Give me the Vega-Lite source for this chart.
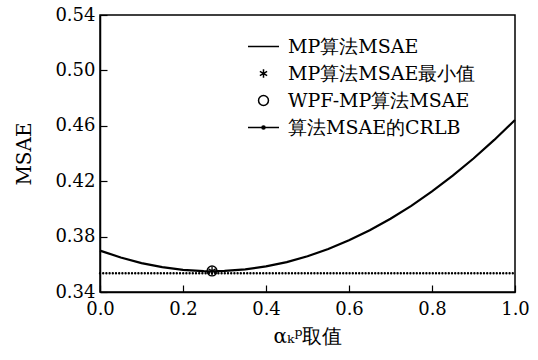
{
  "$schema": "https://vega.github.io/schema/vega-lite/v6.json",
  "width": 415,
  "height": 277,
  "autosize": {"type": "none"},
  "padding": {"left": 100, "top": 15, "right": 23, "bottom": 68},
  "background": "white",
  "config": {
    "view": {"stroke": "black", "strokeWidth": 1.5},
    "font": "DejaVu Serif",
    "axis": {
      "domainColor": "black", "domainWidth": 1.5,
      "tickColor": "black", "tickWidth": 1.2, "tickSize": -7,
      "labelColor": "black", "labelFont": "DejaVu Serif", "labelFontSize": 18, "labelFlush": false,
      "titleColor": "black", "titleFont": "DejaVu Serif", "titleFontSize": 20, "titleFontWeight": "normal",
      "grid": false
    }
  },
  "datasets": {
    "curve": [
      {"a": 0.0, "msae": 0.3699},
      {"a": 0.05, "msae": 0.3649},
      {"a": 0.1, "msae": 0.3609},
      {"a": 0.15, "msae": 0.3580},
      {"a": 0.2, "msae": 0.3560},
      {"a": 0.25, "msae": 0.3551},
      {"a": 0.27, "msae": 0.3550},
      {"a": 0.3, "msae": 0.3552},
      {"a": 0.35, "msae": 0.3563},
      {"a": 0.4, "msae": 0.3585},
      {"a": 0.45, "msae": 0.3616},
      {"a": 0.5, "msae": 0.3658},
      {"a": 0.55, "msae": 0.3711},
      {"a": 0.6, "msae": 0.3773},
      {"a": 0.65, "msae": 0.3846},
      {"a": 0.7, "msae": 0.3929},
      {"a": 0.75, "msae": 0.4022},
      {"a": 0.8, "msae": 0.4126},
      {"a": 0.85, "msae": 0.4240},
      {"a": 0.9, "msae": 0.4364},
      {"a": 0.95, "msae": 0.4498},
      {"a": 1.0, "msae": 0.4642}
    ],
    "crlb": [
      {"a": 0.0, "msae": 0.3535},
      {"a": 1.0, "msae": 0.3535}
    ],
    "marks": [
      {"a": 0.27, "msae": 0.3552, "series": "MP算法MSAE最小值"},
      {"a": 0.27, "msae": 0.3552, "series": "WPF-MP算法MSAE"}
    ]
  },
  "layer": [
    {
      "data": {"name": "curve"},
      "mark": {"type": "line", "color": "black", "strokeWidth": 2.2},
      "encoding": {
        "x": {"field": "a", "type": "quantitative", "scale": {"domain": [0, 1]},
              "axis": {"values": [0, 0.2, 0.4, 0.6, 0.8, 1.0], "format": ".1f", "labelPadding": 15, "title": "αₖᵖ取值", "titlePadding": 8}},
        "y": {"field": "msae", "type": "quantitative", "scale": {"domain": [0.34, 0.54], "zero": false},
              "axis": {"values": [0.34, 0.38, 0.42, 0.46, 0.50, 0.54], "format": ".2f", "labelPadding": 12, "title": "MSAE", "titlePadding": 20}}
      }
    },
    {
      "data": {"name": "crlb"},
      "mark": {"type": "line", "color": "black", "strokeWidth": 2.4, "strokeDash": [0, 3.2], "strokeCap": "round"},
      "encoding": {
        "x": {"field": "a", "type": "quantitative"},
        "y": {"field": "msae", "type": "quantitative"}
      }
    },
    {
      "data": {"name": "marks"},
      "mark": {"type": "point", "filled": false, "stroke": "black", "strokeWidth": 1.3, "size": 961, "opacity": 1},
      "encoding": {
        "x": {"field": "a", "type": "quantitative"},
        "y": {"field": "msae", "type": "quantitative"},
        "shape": {
          "field": "series", "type": "nominal",
          "scale": {
            "domain": ["MP算法MSAE", "MP算法MSAE最小值", "WPF-MP算法MSAE", "算法MSAE的CRLB"],
            "range": [
              "M-1,0H1",
              "M0,-0.27V0.27M-0.234,-0.135L0.234,0.135M-0.234,0.135L0.234,-0.135",
              "M0.32,0A0.32,0.32 0 1,1 -0.32,0A0.32,0.32 0 1,1 0.32,0Z",
              "M-1,0H1M0.1,0A0.1,0.1 0 1,1 -0.1,0A0.1,0.1 0 1,1 0.1,0Z"
            ]
          },
          "legend": {
            "title": null,
            "orient": "none",
            "legendX": 147,
            "legendY": 15,
            "symbolStrokeColor": "black",
            "symbolStrokeWidth": 1.5,
            "symbolFillColor": "transparent",
            "symbolSize": 961,
            "labelFont": "DejaVu Serif",
            "labelFontSize": 19,
            "labelColor": "black",
            "labelOffset": 8,
            "labelLimit": 300,
            "rowPadding": 0,
            "padding": 0
          }
        }
      }
    }
  ]
}
